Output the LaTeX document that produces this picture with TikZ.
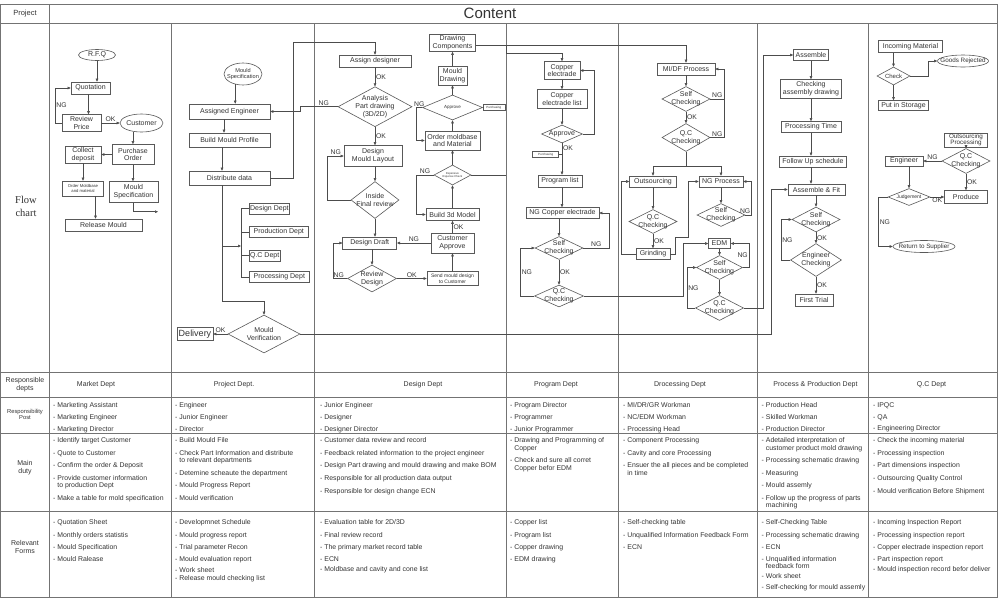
\documentclass[tikz,border=0pt]{standalone}
\usepackage{fontspec}
\setmainfont{Liberation Sans}
\newfontfamily\flowfont{Liberation Serif}
\usetikzlibrary{shapes.geometric,arrows.meta}
\newcommand\ind{\hphantom{-\ }}
\begin{document}
\begin{tikzpicture}[x=1pt, y=-1pt, font=\fontsize{7}{7.8}\selectfont, text=black!80,
  sz/.style 2 args={minimum width=#1, minimum height=#2},
  box/.style={draw=black!65, line width=0.6pt, fill=white, inner sep=0.8pt, align=center},
  dia/.style={diamond, draw=black!65, line width=0.6pt, fill=white, inner sep=0pt},
  oval/.style={ellipse, draw=black!65, line width=0.6pt, fill=white, inner sep=0pt},
  txt/.style={align=center, inner sep=0pt},
  con/.style={draw=black!70, line width=0.5pt},
  arr/.style={con, -{Triangle[length=3pt,width=2.6pt]}},
  lbl/.style={inner sep=0.8pt, font=\fontsize{6.8}{7}\selectfont},
  grid/.style={draw=black!55, line width=0.6pt},
  postcell/.style={anchor=north west, align=left, inner sep=0pt, font=\fontsize{6.9}{11.7}\selectfont},
  dutycell/.style={anchor=north west, align=left, inner sep=0pt, font=\fontsize{6.9}{12.6}\selectfont},
  formcell/.style={anchor=north west, align=left, inner sep=0pt, font=\fontsize{6.9}{12.3}\selectfont}]
\useasboundingbox (0,0) rectangle (998,598);
% table frame
\draw[grid] (0.5,4) rectangle (997.5,597.5);
\draw[grid] (0.5,23) -- (997.5,23);
\foreach \y in {372,397,433,511} \draw[grid] (0.5,\y) -- (997.5,\y);
\draw[grid] (49,4) -- (49,597.5);
\foreach \x in {171,314,506,618,757,868} \draw[grid] (\x,23) -- (\x,597.5);
\node (hproj) at (25,14) {\fontsize{7.5}{8}\selectfont Project};
\node (hcont) at (490,13) {\fontsize{15}{16}\selectfont Content};
\node[align=center, font=\flowfont\fontsize{10.5}{13}\selectfont] (hflow) at (26,206) {Flow\\chart};

% market
\node[oval, sz={37}{11}, label={[txt]center:R.F.Q}] (rfq) at (97,55) {};
\node[box, sz={39}{12}] (quot) at (90.5,88) {Quotation};
\node[box, sz={39}{17}] (rev) at (81.5,123) {Review\\Price};
\node[oval, sz={43}{18}, label={[txt]center:Customer}] (cust) at (141.5,123) {};
\node[box, sz={42}{20}] (po) at (133,154.5) {Purchase\\Order};
\node[box, sz={36}{17}] (dep) at (83,154.5) {Collect\\deposit};
\node[box, sz={41}{15}, font=\fontsize{4.2}{5}\selectfont] (omb) at (83,188.5) {Order Moldbase\\and material};
\node[box, sz={49}{21}] (mspec) at (133.5,192) {Mould\\Specification};
\node[box, sz={77}{12}] (rel) at (103.5,225) {Release Mould};
\coordinate (mout) at (158,211.7);

% project
\node[oval, sz={38}{22}, label={[txt, font=\fontsize{5.6}{6.6}\selectfont]center:Mould\\Specification}] (pspec) at (243,74) {};
\node[box, sz={81}{15}] (aeng) at (229.5,111.5) {Assigned Engineer};
\node[box, sz={81}{14}] (bmp) at (229.5,140) {Build Mould Profile};
\node[box, sz={81}{14}] (dist) at (229.5,178) {Distribute data};
\node[box, sz={37}{11}, anchor=west] (ddes) at (249,208.5) {Design Dept};
\node[box, sz={59}{11}, anchor=west] (dprd) at (249,232) {Production Dept};
\node[box, sz={28}{11}, anchor=west] (dqc) at (249,255.5) {Q.C Dept};
\node[box, sz={60}{11}, anchor=west] (dprc) at (249,277) {Processing Dept};
\node[dia, sz={72}{38}, label={[txt]center:Mould\\Verification}] (mver) at (264,334) {};
\node[box, sz={36}{13}, font=\fontsize{9}{10}\selectfont] (deliv) at (195,334) {Delivery};

% design
\node[box, sz={72}{12}] (asgn) at (375,61) {Assign designer};
\node[dia, sz={74}{40}, label={[txt]center:Analysis\\Part drawing\\(3D/2D)}] (ana) at (375,106.7) {};
\node[box, sz={58}{21}] (dml) at (373,156) {Design\\Mould Layout};
\node[dia, sz={48}{37}, label={[txt]center:Inside\\Final review}] (ifr) at (375,200) {};
\node[box, sz={54}{12}] (ddr) at (369.7,243) {Design Draft};
\node[dia, sz={49}{27}, label={[txt]center:Review\\Design}] (rdg) at (372,278.5) {};
\node[box, sz={51}{14}, font=\fontsize{5}{5.8}\selectfont] (send) at (452.5,278.5) {Send mould design\\to Customer};
\node[box, sz={43}{20}] (capp) at (452.5,243) {Customer\\Approve};
\node[box, sz={53}{12}] (b3d) at (452.5,214.5) {Build 3d Model};
\node[dia, sz={37}{20}, label={[txt, font=\fontsize{2.8}{3.3}\selectfont]center:Expensive\\Expense Check}] (exp) at (452.5,175) {};
\node[box, sz={55}{19}] (omat) at (452.5,140.5) {Order moldbase\\and Material};
\node[dia, sz={60}{25}, label={[txt, font=\fontsize{4.5}{5}\selectfont]center:Approve}] (appr) at (452.5,107.5) {};
\node[box, sz={22}{5.5}, inner sep=0.3pt, font=\fontsize{3}{3.5}\selectfont, anchor=west] (pura) at (482.5,107.5) {Purchasing};
\node[box, sz={29}{19}] (mdr) at (452.5,75.5) {Mould\\Drawing};
\node[box, sz={46}{17}] (dcomp) at (452.5,43) {Drawing\\Components};

% program
\node[box, sz={36}{18}] (cu) at (562,70.5) {Copper\\electrade};
\node[box, sz={50}{19}] (cul) at (562,99) {Copper\\electrade list};
\node[dia, sz={41}{18}, label={[txt]center:Approve}] (apr2) at (562,134) {};
\node[box, sz={26}{5.5}, inner sep=0.3pt, font=\fontsize{3}{3.5}\selectfont, anchor=east] (purb) at (559,154.5) {Purchasing};
\node[box, sz={44}{12}] (plist) at (560,181) {Program list};
\node[box, sz={73}{11}] (ngcu) at (562.5,213) {NG Copper electrade};
\node[dia, sz={48}{23}, label={[txt]center:Self\\Checking}] (sc1) at (559,248) {};
\node[dia, sz={49}{22}, label={[txt]center:Q.C\\Checking}] (qc1) at (559,296) {};

% drocessing
\node[box, sz={58}{12}] (mdf) at (686,69) {MI/DF Process};
\node[dia, sz={48}{25}, label={[txt]center:Self\\Checking}] (sc2) at (686,99) {};
\node[dia, sz={48}{28}, label={[txt]center:Q.C\\Checking}] (qc2) at (686,137.5) {};
\node[box, sz={47}{11}] (outs) at (653,181.5) {Outsourcing};
\node[box, sz={44}{11}] (ngp) at (721,181.5) {NG Process};
\node[dia, sz={48}{24}, label={[txt]center:Q.C\\Checking}] (qc3) at (653,221.5) {};
\node[box, sz={34}{11}] (grd) at (653,254) {Grinding};
\node[dia, sz={48}{23}, label={[txt]center:Self\\Checking}] (sc3) at (721,215) {};
\node[box, sz={22}{10}] (edm) at (719.5,243.5) {EDM};
\node[dia, sz={46}{24}, label={[txt]center:Self\\Checking}] (sc4) at (719.5,267.5) {};
\node[dia, sz={48}{25}, label={[txt]center:Q.C\\Checking}] (qc4) at (719.5,308) {};

% process
\node[box, sz={35}{11}] (asm) at (811,55) {Assemble};
\node[box, sz={61}{19}] (cad) at (811,89) {Checking\\assembly drawing};
\node[box, sz={60}{11}] (ptime) at (811,127) {Processing Time};
\node[box, sz={67}{11}] (fus) at (813,161.5) {Follow Up schedule};
\node[box, sz={57}{11}] (afit) at (816.5,189.5) {Assemble \& Fit};
\node[dia, sz={48}{25}, label={[txt]center:Self\\Checking}] (sc5) at (816,219.5) {};
\node[dia, sz={51}{33}, label={[txt]center:Engineer\\Checking}] (engc) at (816,260) {};
\node[box, sz={38}{12}] (ftr) at (814,300) {First Trial};

% q.c
\node[box, sz={64}{12}] (inm) at (910.5,46.5) {Incoming Material};
\node[dia, sz={33}{18}, label={[txt, font=\fontsize{6}{7}\selectfont]center:Check}] (chk) at (893.5,76) {};
\node[oval, sz={51}{12}, label={[txt, font=\fontsize{6.3}{7}\selectfont]center:Goods Rejected}] (grej) at (963,61) {};
\node[box, sz={50}{10}] (pis) at (903.5,105.5) {Put in Storage};
\node[box, sz={43}{13.5}, font=\fontsize{6.3}{6.6}\selectfont] (oproc) at (966,140) {Outsourcing\\Processing};
\node[dia, sz={48}{25}, label={[txt]center:Q.C\\Checking}] (qc5) at (966,161) {};
\node[box, sz={38}{10}] (eng) at (904,161) {Engineer};
\node[box, sz={43}{13}] (prod) at (966,197) {Produce};
\node[dia, sz={42}{17}, label={[txt, font=\fontsize{5}{6}\selectfont]center:Judgement}] (judg) at (909,197) {};
\node[oval, sz={62}{12}, label={[txt, font=\fontsize{6.3}{7}\selectfont]center:Return to Supplier}] (rts) at (924,246.5) {};

\coordinate (busA) at (293,42);
\coordinate (turnA) at (300,106.7);
\coordinate (dj) at (222,301.7);
\coordinate (brk) at (241,246);
\coordinate (busB) at (771.7,334);
\coordinate (busC) at (763,0);
\coordinate (edmJ) at (683,0);
\coordinate (cjn) at (506,45);
\coordinate (expR) at (506,175);
\coordinate (purR) at (506,107.5);

% market links
\draw[arr] (rfq.south) -- (rfq.south |- quot.north);
\draw[arr] ([xshift=-2]quot.south) -- ([xshift=-2]quot.south |- rev.north);
\draw[arr] (rev.west) -- ++(-6.3,0) |- node[lbl, pos=0.25, right] {NG} (quot.west);
\draw[arr] (rev.east) -- node[lbl, above] {OK} (cust.west);
\draw[arr] (cust.225) -- (cust.225 |- po.north);
\draw[arr] (po.west) -- (dep.east);
\draw[arr] (dep.south) -- (omb.north);
\draw[arr] (po.south) -- (po.south |- mspec.north);
\draw[arr] (mspec.south) |- (mout);
\draw[arr] ([xshift=12.5]omb.south) -- ([xshift=12.5]omb.south |- rel.north);

% project links
\draw[arr] (pspec.233) -- (pspec.233 |- aeng.north);
\draw[arr] ([xshift=-5.5]aeng.south) -- ([xshift=-5.5]bmp.north);
\draw[arr] ([xshift=-7.5]bmp.south) -- ([xshift=-7.5]dist.north);
\draw[arr] (dist.east) -| (busA) -| (asgn.north);
\draw[arr] (ana.west) -- node[lbl, above, pos=0.37] {NG} (turnA) |- (aeng.east);
\draw[con] ([xshift=-7.5]dist.south) -- (dj);
\draw[arr] (dj) -| (mver.north);
\draw[arr] (dj |- brk) -- (brk);
\draw[con] (brk |- ddes.west) -- (brk |- dprc.west);
\foreach \d in {ddes,dprd,dqc,dprc} \draw[con] (brk |- \d.west) -- (\d.west);
\draw[arr] (mver.west) -- node[lbl, above] {OK} (deliv.east);
\draw[arr] (mver.east) -- (busB) |- (afit.west);

% design links
\draw[arr] (asgn.south) -- node[lbl, right] {OK} (ana.north);
\draw[arr] (ana.south) -- node[lbl, right] {OK} (ana.south |- dml.north);
\draw[arr] (ifr.north |- dml.south) -- (ifr.north);
\draw[arr] (ifr.west) -- ++(-23,0) |- node[lbl, pos=0.75, above] {NG} (dml.west);
\draw[arr] (ifr.south) -- (ifr.south |- ddr.north);
\draw[arr] (rdg.north |- ddr.south) -- (rdg.north);
\draw[arr] (rdg.west) -- node[lbl, above, pos=0.6] {NG} ++(-14,0) |- (ddr.west);
\draw[arr] (rdg.east) -- node[lbl, above] {OK} (send.west);
\draw[arr] (send.north) -- (capp.south);
\draw[arr] (capp.west) -- node[lbl, above] {NG} (ddr.east);
\draw[arr] (capp.north) -- node[lbl, right] {OK} (b3d.south);
\draw[arr] (b3d.north) -- (exp.south);
\draw[arr] (exp.west) -- node[lbl, above] {NG} ++(-17.5,0) |- (b3d.west);
\draw[arr] (exp.north) -- (omat.south);
\draw[con] (exp.east) -- (expR);
\draw[arr] (omat.north) -- (appr.south);
\draw[arr] (appr.west) -- node[lbl, above] {NG} ++(-6,0) |- (omat.west);
\draw[con] (appr.east) -- (pura.west);
\draw[con] (pura.east) -- (purR);
\draw[arr] (appr.north) -- (mdr.south);
\draw[arr] (mdr.north) -- (dcomp.south);
\draw[arr] ([yshift=-2]dcomp.east) -| (mdf.north);

% program links
\draw[arr] (cjn) -- ++(0,8) -| (cu.north);
\draw[arr] (cu.south) -- (cul.north);
\draw[arr] (cul.south) -- (apr2.north);
\draw[arr] (apr2.east) -- ++(11,0) |- (cu.east);
\draw[arr] (apr2.south) -- node[lbl, pos=0.15, right] {OK} (apr2.south |- plist.north);
\draw[con] (purb.east) -- (apr2.south |- purb.east);
\draw[arr] (apr2.south |- plist.south) -- (apr2.south |- ngcu.north);
\draw[arr] (sc1.north |- ngcu.south) -- (sc1.north);
\draw[arr] (sc1.east) -- node[lbl, above] {NG} ++(26,0) |- (ngcu.east);
\draw[arr] (sc1.south) -- node[lbl, right] {OK} (qc1.north);
\draw[arr] (qc1.west) -- ++(-13.5,0) |- node[lbl, pos=0.25, right] {NG} (sc1.west);
\draw[arr] (qc1.east) -| (edmJ |- edm.west) -- (edm.west);

% drocessing links
\draw[arr] (mdf.south) -- (sc2.north);
\draw[arr] (sc2.east) -- node[lbl, above] {NG} ++(14,0) |- (mdf.east);
\draw[con] (qc2.east) -- node[lbl, above] {NG} ++(14,0) -- ([xshift=14]sc2.east);
\draw[arr] (sc2.south) -- node[lbl, right] {OK} (qc2.north);
\draw[con] (qc2.south) -- ++(0,14) coordinate (qj);
\draw[arr] (qj) -| (outs.north);
\draw[arr] (qj) -| (ngp.north);
\draw[arr] (outs.south) -- (qc3.north);
\draw[arr] (qc3.south) -- node[lbl, right] {OK} (grd.north);
\draw[arr] (grd.west) -- ++(-14,0) |- (outs.west);
\draw[arr] (grd.east) -- ++(5,0) |- ++(13.3,-17) |- (ngp.west);
\draw[arr] (ngp.south) -- (sc3.north);
\draw[arr] (sc3.east) -- ++(6,0) node[lbl, above left] {NG} |- (ngp.east);
\draw[arr] (edm.south) -- (sc4.north);
\draw[arr] (sc4.east) -- ++(6,0) |- node[lbl, pos=0.25, left] {NG} (edm.east);
\draw[arr] (sc4.south) -- (qc4.north);
\draw[arr] (qc4.west) -- ++(-8,0) |- node[lbl, pos=0.25, right] {NG} (sc4.west);
\draw[arr] (qc4.east) -| (busC |- asm.west) -- (asm.west);

% process links
\draw[arr] (asm.south) -- (cad.north);
\draw[arr] (cad.south) -- (ptime.north);
\draw[arr] (ptime.south) -- (ptime.south |- fus.north);
\draw[arr] (ptime.south |- fus.south) -- (ptime.south |- afit.north);
\draw[arr] (sc5.north |- afit.south) -- (sc5.north);
\draw[arr] (sc5.south) -- node[lbl, right] {OK} (engc.north);
\draw[arr] (engc.south) -- node[lbl, right] {OK} (engc.south |- ftr.north);
\draw[arr] (engc.west) -- ++(-9,0) |- node[lbl, pos=0.25, right] {NG} (sc5.west);

% q.c links
\draw[arr] (chk.north |- inm.south) -- (chk.north);
\draw[arr] (chk.east) -- ++(18,0) |- (grej.west);
\draw[arr] (chk.south) -- (chk.south |- pis.north);
\draw[arr] (oproc.south) -- (qc5.north);
\draw[arr] (qc5.west) -- node[lbl, above] {NG} (eng.east);
\draw[arr] (qc5.south) -- node[lbl, right] {OK} (prod.north);
\draw[arr] (judg.north |- eng.south) -- (judg.north);
\draw[arr] (judg.east) -- node[lbl, below] {OK} (prod.west);
\draw[arr] (judg.west) -- ++(-9,0) |- node[lbl, pos=0.25, right] {NG} (rts.west);

% table rows
\node[align=center] (rlab1) at (25,384.5) {Responsible\\depts};
\node[align=center, font=\fontsize{5.8}{6.6}\selectfont] (rlab2) at (25,414.5) {Responsibility\\Post};
\node[align=center] (rlab3) at (25,468) {Main\\duty};
\node[align=center] (rlab4) at (25,547) {Relevant\\Forms};
\foreach \x/\t [count=\i] in {96/Market Dept, 234/Project Dept., 423/Design Dept, 556/Program Dept,
    680/Drocessing Dept, 815.5/Process \& Production Dept, 931.5/Q.C Dept}
  \node (dept\i) at (\x,384.5) {\t};

\node[postcell] (post1) at (53,402.5) {- Marketing Assistant\\- Marketing Engineer\\- Marketing Director};
\node[postcell] (post2) at (175,402.5) {- Engineer\\- Junior Engineer\\- Director};
\node[postcell] (post3) at (320,402.5) {- Junior Engineer\\- Designer\\- Designer Director};
\node[postcell] (post4) at (510,402.5) {- Program Director\\- Programmer\\- Junior Programmer};
\node[postcell] (post5) at (623,402.5) {- MI/DR/GR Workman\\- NC/EDM Workman\\- Processing Head};
\node[postcell] (post6) at (761.5,402.5) {- Production Head\\- Skilled Workman\\- Production Director};
\node[postcell] (post7) at (873,402.5) {- IPQC\\- QA\\- Engineering Director};

\node[dutycell] (duty1) at (53,437.5) {- Identify target Customer\\- Quote to Customer\\- Confirm the order \& Deposit\\- Provide customer information\\[-5.2pt]\ind to production Dept\\- Make a table for mold specification};
\node[dutycell] (duty2) at (175,437.5) {- Build Mould File\\- Check Part Information and distribute\\[-5.2pt]\ind to relevant departments\\- Detemine scheaute the department\\- Mould Progress Report\\- Mould verification};
\node[dutycell] (duty3) at (320,437.5) {- Customer data review and record\\- Feedback related information to the project engineer\\- Design Part drawing and mould drawing and make BOM\\- Responsible for all production data output\\- Responsible for design change ECN};
\node[dutycell] (duty4) at (510,437.5) {- Drawing and Programming of\\[-5.2pt]\ind Copper\\- Check and sure all corret\\[-5.2pt]\ind Copper befor EDM};
\node[dutycell] (duty5) at (623,437.5) {- Component Processing\\- Cavity and core Processing\\- Ensuer the all pieces and be completed\\[-5.2pt]\ind in time};
\node[dutycell] (duty6) at (761.5,437.5) {- Adetailed interpretation of\\[-5.2pt]\ind customer product mold drawing\\- Processing schematic drawing\\- Measuring\\- Mould assemly\\- Follow up the progress of parts\\[-5.2pt]\ind machining};
\node[dutycell] (duty7) at (873,437.5) {- Check the incoming material\\- Processing inspection\\- Part dimensions inspection\\- Outsourcing Quality Control\\- Mould verification Before Shipment};

\node[formcell] (form1) at (53,519.5) {- Quotation Sheet\\- Monthly orders statistis\\- Mould Specification\\- Mould Ralease};
\node[formcell] (form2) at (175,519.5) {- Developmnet Schedule\\- Mould progress report\\- Trial parameter Recon\\- Mould evaluation report\\[-1.3pt]- Work sheet\\[-4.3pt]- Release mould checking list};
\node[formcell] (form3) at (320,519.5) {- Evaluation table for 2D/3D\\- Final review record\\- The primary market record table\\- ECN\\[-2.3pt]- Moldbase and cavity and cone list};
\node[formcell] (form4) at (510,519.5) {- Copper list\\- Program list\\- Copper drawing\\- EDM drawing};
\node[formcell] (form5) at (623,519.5) {- Self-checking table\\- Unqualified Information Feedback Form\\- ECN};
\node[formcell] (form6) at (761.5,519.5) {- Self-Checking Table\\- Processing schematic drawing\\- ECN\\- Unqualified information\\[-5pt]\ind feedback form\\[-2.3pt]- Work sheet\\[-1.3pt]- Self-checking for mould assemly};
\node[formcell] (form7) at (873,519.5) {- Incoming Inspection Report\\- Processing inspection report\\- Copper electrade inspection report\\- Part inspection report\\[-2.3pt]- Mould inspection record befor deliver};
\end{tikzpicture}
\end{document}
